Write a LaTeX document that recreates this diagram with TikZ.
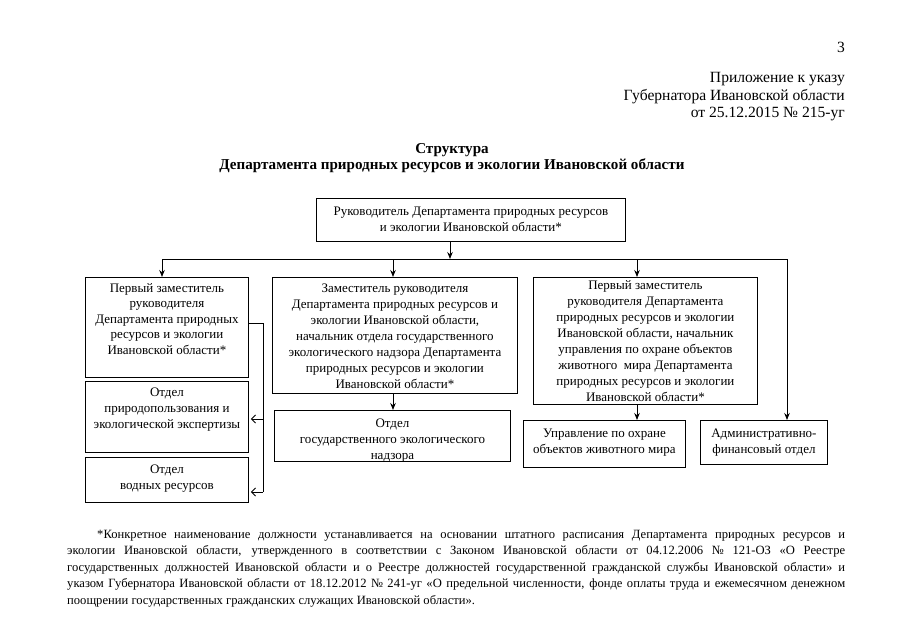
\documentclass[tikz,border=0pt]{standalone}
\usepackage{fontspec}
\setmainfont{Liberation Serif}
\usetikzlibrary{arrows.meta}
\newcommand\bxt[4]{\parbox[t][#1pt][t]{#2pt}{\centering\rule{0pt}{#3pt}#4\par}}
\tikzset{
  bx/.style={draw, line width=0.9pt, inner sep=0pt, anchor=north west, font=\fontsize{13}{16}\selectfont},
  arr/.style={line width=0.9pt, -{Stealth[length=7pt,width=5.5pt]}},
  oarr/.style={line width=0.9pt, -{Straight Barb[length=4pt,width=8pt]}, shorten >=2pt},
  ln/.style={line width=0.9pt},
  hd/.style={inner sep=0pt, anchor=base east, font=\fontsize{15.6}{18}\selectfont},
  ttl/.style={inner sep=0pt, anchor=base, font=\fontsize{15.1}{17}\selectfont\bfseries}
}
\begin{document}
\begin{tikzpicture}[x=1pt,y=-1pt]
\useasboundingbox (0,0) rectangle (905,640);
% header
\node[hd] (pg) at (845,52) {3};
\node[hd] (h1) at (845,82) {Приложение к указу};
\node[hd] (h2) at (845,100) {Губернатора Ивановской области};
\node[hd] (h3) at (845,117) {от 25.12.2015 № 215-уг};
\node[ttl] (t1) at (452,153) {Структура};
\node[ttl] (t2) at (452,169) {Департамента природных ресурсов и экологии Ивановской области};
% boxes
\node[bx] (top) at (316,198) {\bxt{43}{309}{17}{Руководитель Департамента природных ресурсов\\и экологии Ивановской области*}};
\node[bx, font=\fontsize{13}{15.4}\selectfont] (L1) at (85,277) {\bxt{100}{163}{15}{Первый заместитель\\руководителя\\Департамента природных\\ресурсов и экологии\\Ивановской области*}};
\node[bx] (L2) at (85,381) {\bxt{71}{163}{15}{Отдел\\природопользования и\\экологической экспертизы}};
\node[bx] (L3) at (85,457) {\bxt{45}{163}{16}{Отдел\\водных ресурсов}};
\node[bx] (M1) at (272,277) {\bxt{116}{245}{15}{Заместитель руководителя\\Департамента природных ресурсов и\\экологии Ивановской области,\\начальник отдела государственного\\экологического надзора Департамента\\природных ресурсов и экологии\\Ивановской области*}};
\node[bx] (M2) at (274,410) {\bxt{51}{236}{17}{Отдел\\государственного экологического\\надзора}};
\node[bx] (R1) at (533,277) {\bxt{127}{224}{12}{Первый заместитель\\руководителя Департамента\\природных ресурсов и экологии\\Ивановской области, начальник\\управления по охране объектов\\животного\ \ мира Департамента\\природных ресурсов и экологии\\Ивановской области*}};
\node[bx] (R2) at (523,420) {\bxt{47}{162}{17}{Управление по охране\\объектов животного мира}};
\node[bx] (R3) at (700,420) {\bxt{44}{127}{17}{Административно-\\финансовый отдел}};
% connectors
\coordinate (jT) at (450,259);
\coordinate (hL) at (162,259);
\coordinate (hM) at (393,259);
\coordinate (hQ) at (637,259);
\coordinate (hR) at (787,259);
\draw[arr] (top.south -| jT) -- (jT);
\draw[ln] (hL) -- (hR);
\draw[arr] (hL) -- (L1.north -| hL);
\draw[arr] (hM) -- (M1.north -| hM);
\draw[arr] (hQ) -- (R1.north -| hQ);
\draw[arr] (hR) -- (R3.north -| hR);
\draw[arr] (M1.south -| hM) -- (M2.north -| hM);
\draw[arr] (R1.south -| hQ) -- (R2.north -| hQ);
\coordinate (b1) at (263,323);
\coordinate (b2) at (263,419);
\coordinate (b3) at (263,492);
\draw[ln] (b1 -| L1.east) -- (b1) -- (b3);
\draw[oarr] (b2) -- (b2 -| L2.east);
\draw[oarr] (b3) -- (b3 -| L3.east);
% footnote
\node[inner sep=0pt, anchor=base west] (fn) at (67,538) {\parbox[t]{778pt}{\fontsize{12.6}{16.5}\selectfont\parindent=30pt\emergencystretch=3em
*Конкретное наименование должности устанавливается на основании штатного расписания Департамента природных ресурсов и\linebreak
экологии Ивановской области, утвержденного в соответствии с Законом Ивановской области от 04.12.2006 № 121-ОЗ «О Реестре\linebreak
государственных должностей Ивановской области и о Реестре должностей государственной гражданской службы Ивановской области» и\linebreak
указом Губернатора Ивановской области от 18.12.2012 № 241-уг «О предельной численности, фонде оплаты труда и ежемесячном денежном\linebreak
поощрении государственных гражданских служащих Ивановской области».\par}};
\end{tikzpicture}
\end{document}
